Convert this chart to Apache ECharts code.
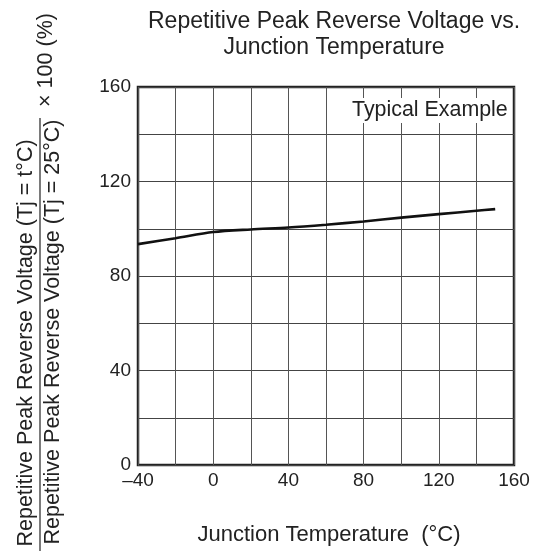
<!DOCTYPE html>
<html>
<head>
<meta charset="utf-8">
<script src="https://cdn.jsdelivr.net/npm/echarts@6/dist/echarts.min.js"></script>
<style>html,body{margin:0;padding:0;background:#fff}#c{width:544px;height:551px}</style>
</head>
<body>
<div id="c"></div>
<script>
const temps = [-40, -20, 0, 20, 40, 60, 80, 100, 120, 140, 150];
const ratio = [93.5, 96.0, 98.6, 99.7, 100.5, 101.7, 103.1, 104.7, 106.2, 107.6, 108.3];
const xTickLabels = [-40, 0, 40, 80, 120, 160];
const yTickLabels = [0, 40, 80, 120, 160];
const titleLines = ['Repetitive Peak Reverse Voltage vs.', 'Junction Temperature'];
const xName = 'Junction Temperature  (°C)';
const yNumerator = 'Repetitive Peak Reverse Voltage (Tj = t°C)';
const yDenominator = 'Repetitive Peak Reverse Voltage (Tj = 25°C)';
const yFactor = '× 100 (%)';
const noteText = 'Typical Example';

const FONT = 'Liberation Sans, Arial, sans-serif';
const TXT = '#222';
const chart = echarts.init(document.getElementById('c'), null, {renderer: 'canvas'});

chart.setOption({
  animation: false,
  backgroundColor: '#fff',
  title: {
    text: titleLines.join('\n'),
    left: 329, top: 4, textAlign: 'center',
    textStyle: {fontFamily: FONT, fontSize: 23, fontWeight: 'normal', color: TXT, lineHeight: 26}
  },
  grid: {left: 138, right: 30, top: 87, bottom: 86, show: true, borderColor: '#222', borderWidth: 2.5, backgroundColor: 'transparent'},
  xAxis: {
    type: 'value', min: -40, max: 160, interval: 20,
    axisLine: {show: false}, axisTick: {show: false},
    splitLine: {show: true, lineStyle: {color: '#555', width: 1}},
    axisLabel: {
      margin: 6, fontFamily: FONT, fontSize: 19, color: TXT,
      formatter: v => xTickLabels.includes(v) ? String(v).replace('-', '–') : ''
    }
  },
  yAxis: {
    type: 'value', min: 0, max: 160, interval: 20,
    axisLine: {show: false}, axisTick: {show: false},
    splitLine: {show: true, lineStyle: {color: '#444', width: 1}},
    axisLabel: {
      margin: 7, fontFamily: FONT, fontSize: 19, color: TXT,
      formatter: v => yTickLabels.includes(v) ? String(v) : ''
    }
  },
  graphic: [
    {type: 'text', left: 350, top: 98, z: 10,
     style: {text: noteText, fontFamily: FONT, fontSize: 21.4, fill: TXT, backgroundColor: '#fff', padding: [2, 2]}},
    {type: 'text', x: 329, y: 535, z: 10,
     style: {text: xName, fontFamily: FONT, fontSize: 22, fill: TXT, align: 'center', verticalAlign: 'middle'}},
    {type: 'text', x: 26, y: 343, rotation: Math.PI / 2, z: 10,
     style: {text: yNumerator, fontFamily: FONT, fontSize: 21.5, fill: TXT, align: 'center', verticalAlign: 'middle'}},
    {type: 'line', z: 10, shape: {x1: 40, y1: 118, x2: 40, y2: 551}, style: {stroke: '#222', lineWidth: 1.2}},
    {type: 'text', x: 53, y: 332, rotation: Math.PI / 2, z: 10,
     style: {text: yDenominator, fontFamily: FONT, fontSize: 21.5, fill: TXT, align: 'center', verticalAlign: 'middle'}},
    {type: 'text', x: 46, y: 60, rotation: Math.PI / 2, z: 10,
     style: {text: yFactor, fontFamily: FONT, fontSize: 21.5, fill: TXT, align: 'center', verticalAlign: 'middle'}}
  ],
  series: [{
    type: 'line',
    data: temps.map((t, i) => [t, ratio[i]]),
    smooth: 0.3, showSymbol: false,
    lineStyle: {color: '#111', width: 2.6}
  }]
});
</script>
</body>
</html>
